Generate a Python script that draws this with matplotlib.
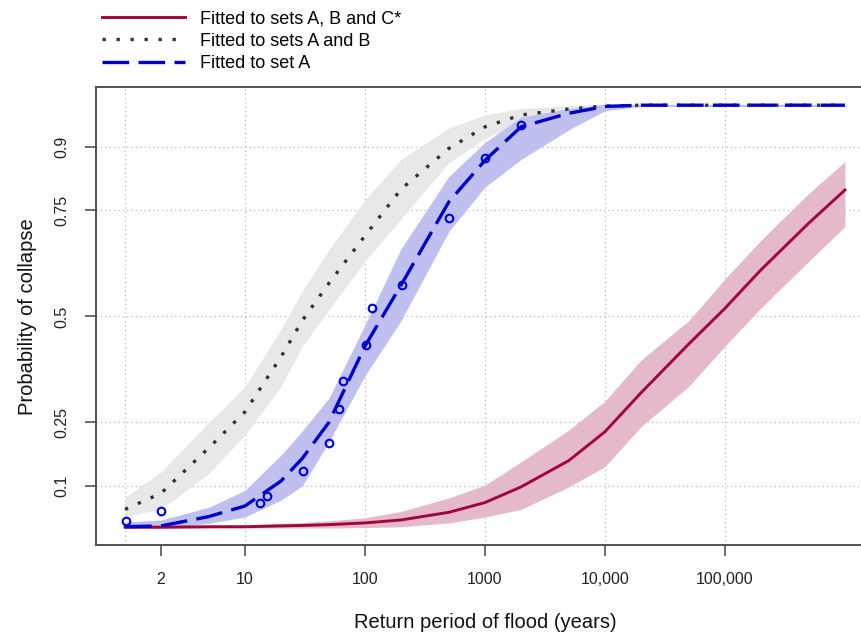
import numpy as np
import matplotlib
matplotlib.use("Agg")
import matplotlib.pyplot as plt

plt.rcParams['font.family'] = ['Liberation Sans', 'DejaVu Sans']

# Return periods (years) at which the fitted curves are evaluated
return_period = [1, 2, 5, 10, 20, 30, 50, 100, 200, 500, 1000, 2000, 5000,
                 10000, 20000, 50000, 100000, 200000, 500000, 1000000]

# Fitted to sets A, B and C*
abc_mid = [0.003, 0.003, 0.004, 0.004, 0.006, 0.007, 0.009, 0.013, 0.020, 0.038, 0.061, 0.098,
           0.160, 0.228, 0.320, 0.435, 0.519, 0.610, 0.720, 0.798]
abc_lo = [0.000, 0.000, 0.001, 0.001, 0.001, 0.001, 0.001, 0.002, 0.004, 0.013, 0.027, 0.045,
          0.098, 0.146, 0.240, 0.335, 0.430, 0.520, 0.630, 0.712]
abc_hi = [0.006, 0.006, 0.007, 0.008, 0.012, 0.014, 0.018, 0.025, 0.040, 0.072, 0.102, 0.157,
          0.232, 0.300, 0.397, 0.490, 0.588, 0.680, 0.790, 0.865]

# Fitted to sets A and B
ab_mid = [0.045, 0.083, 0.190, 0.275, 0.405, 0.490, 0.578, 0.690, 0.800, 0.896, 0.947, 0.975,
          0.989, 0.996, 0.998, 0.998, 0.998, 0.998, 0.998, 0.998]
ab_lo = [0.028, 0.045, 0.130, 0.220, 0.335, 0.430, 0.515, 0.630, 0.730, 0.862, 0.920, 0.955,
         0.980, 0.990, 0.995, 0.995, 0.995, 0.995, 0.995, 0.995]
ab_hi = [0.074, 0.133, 0.250, 0.334, 0.470, 0.560, 0.657, 0.775, 0.870, 0.944, 0.975, 0.990,
         0.997, 1.000, 1.000, 1.000, 1.000, 1.000, 1.000, 1.000]

# Fitted to set A
a_mid = [0.004, 0.006, 0.028, 0.053, 0.112, 0.165, 0.250, 0.430, 0.574, 0.770, 0.868, 0.947,
         0.979, 0.995, 0.998, 0.998, 0.998, 0.998, 0.998, 0.998]
a_lo = [0.000, 0.000, 0.012, 0.027, 0.067, 0.100, 0.204, 0.360, 0.490, 0.700, 0.805, 0.870,
        0.940, 0.985, 0.995, 0.995, 0.995, 0.995, 0.995, 0.995]
a_hi = [0.015, 0.020, 0.050, 0.090, 0.173, 0.230, 0.307, 0.480, 0.660, 0.830, 0.910, 0.970,
        0.990, 1.000, 1.000, 1.000, 1.000, 1.000, 1.000, 1.000]

# Observed points (set A)
obs_rp = [1.02, 2, 13.3, 15.2, 30.6, 50.4, 61, 66, 102, 114, 202, 504, 1000, 2000]
obs_p = [0.018, 0.041, 0.059, 0.077, 0.135, 0.201, 0.281, 0.348, 0.433, 0.519, 0.574, 0.733,
         0.874, 0.952]

xtick_vals = [2, 10, 100, 1000, 10000, 100000]
xtick_labels = ['2', '10', '100', '1000', '10,000', '100,000']
ytick_vals = [0.1, 0.25, 0.5, 0.75, 0.9]
ytick_labels = ['0.1', '0.25', '0.5', '0.75', '0.9']

fig = plt.figure(figsize=(8.62, 6.35), dpi=100)
ax = fig.add_axes([0.1116, 0.1411, 0.902, 0.7213])
ax.set_xscale('log')
ax.set_xlim(10 ** -0.24, 10 ** 6.24)
ax.set_ylim(-0.04, 1.04)

# grid
for gx in [1, 10, 100, 1000, 10000, 100000]:
    ax.axvline(gx, color='#b8b8b8', lw=0.9, ls=(0, (1, 2.5)), zorder=0)
for gy in ytick_vals:
    ax.axhline(gy, color='#b8b8b8', lw=0.9, ls=(0, (1, 2.5)), zorder=0)

# bands
ax.fill_between(return_period, ab_lo, ab_hi, color='#e8e8e8', lw=0, zorder=1)
ax.fill_between(return_period, a_lo, a_hi, color='#bcbdf0', lw=0, alpha=0.95, zorder=1)
ax.fill_between(return_period, abc_lo, abc_hi, color='#e4b9c9', lw=0, zorder=1)

# lines
l1, = ax.plot(return_period, abc_mid, color='#a0063c', lw=2.1, zorder=3,
              label='Fitted to sets A, B and C*')
l2, = ax.plot(return_period, ab_mid, color='#333333', lw=2.4, ls=(0, (1.0, 3.2)), zorder=4,
              label='Fitted to sets A and B')
l3, = ax.plot(return_period, a_mid, color='#0000cc', lw=2.4, ls=(0, (8, 2.8)), zorder=5,
              label='Fitted to set A')
ax.plot(obs_rp, obs_p, 'o', mfc='none', mec='#0000dd', mew=1.5, ms=5.5, zorder=6)

ax.set_xticks(xtick_vals)
ax.set_xticklabels(xtick_labels)
ax.xaxis.set_minor_locator(matplotlib.ticker.NullLocator())
ax.set_yticks(ytick_vals)
ax.set_yticklabels(ytick_labels, rotation=90, va='center')
ax.tick_params(axis='both', direction='out', length=8, width=1.1, color='#444444',
               labelsize=11.5, labelcolor='#222222', pad=11)

for s in ax.spines.values():
    s.set_color('#444444')
    s.set_linewidth(1.3)

ax.set_xlabel('Return period of flood (years)', fontsize=14.5, color='#111111', labelpad=19)
ax.set_ylabel('Probability of collapse', fontsize=14.5, color='#111111', labelpad=13)

fig.legend(handles=[l1, l2, l3], loc='upper left', bbox_to_anchor=(0.11, 0.995),
           frameon=False, fontsize=13, handlelength=4.6, handletextpad=0.85,
           labelspacing=0.3, borderaxespad=0.0)

fig.savefig('out.png', dpi=100)
